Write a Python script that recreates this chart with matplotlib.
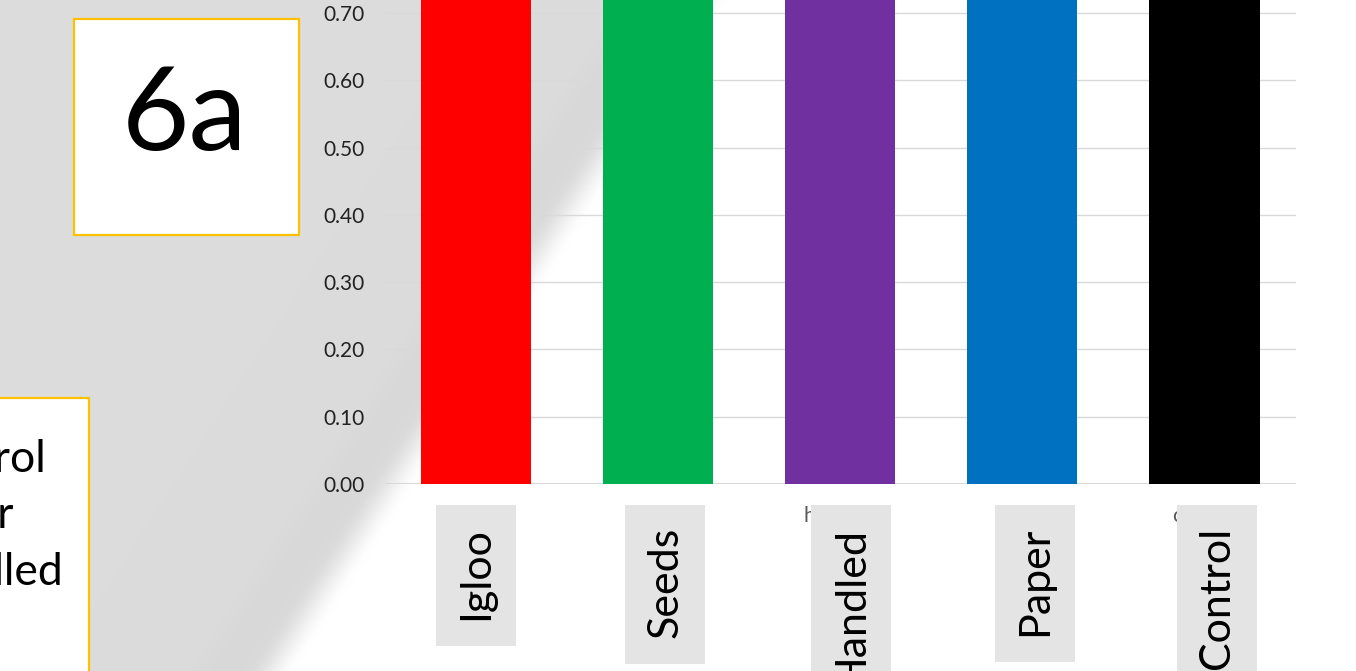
import numpy as np
import matplotlib
matplotlib.use("Agg")
import matplotlib.pyplot as plt
from matplotlib.patches import Rectangle
from matplotlib.transforms import blended_transform_factory, offset_copy

# ---------------- data ----------------
categories = ["Igloo", "Seeds", "Handled", "Paper", "Control"]
axis_tick_names = ["igloo", "seeds", "handled", "paper", "control"]
values = [0.95, 0.92, 0.90, 0.94, 0.97]          # bars run past the visible top (0.72)
bar_colors = ["#FF0000", "#00B050", "#7030A0", "#0070C0", "#000000"]
y_ticks = [0.0, 0.1, 0.2, 0.3, 0.4, 0.5, 0.6, 0.7]
side_lines = ["Control", "Paper", "Handled"]
panel_label = "6a"

# ---------------- layout ----------------
W, H = 1356, 671
FONT = ["Lato", "DejaVu Sans"]
plt.rcParams["font.family"] = FONT

fig = plt.figure(figsize=(W / 100, H / 100), dpi=100)


def fx(px):
    return px / W


def fy(py):  # py measured from top
    return 1 - py / H


# background (slide with page-curl)
bg = fig.add_axes([0, 0, 1, 1], zorder=-10)
yy, xx = np.mgrid[0:H, 0:W].astype(float)
slope = 0.645
xline = 563 - slope * (yy - 200)
d = (xx - xline) / np.sqrt(1 + slope ** 2)
gray = 220.0
shadow = gray - 4 * np.exp(-((d + 30) / 25) ** 2)
t = np.clip((d + 10) / 40, 0, 1)
t = t * t * (3 - 2 * t)
val = shadow * (1 - t) + 255 * t
img = np.dstack([val, val, val]) / 255.0
bg.imshow(img, extent=[0, W, H, 0], aspect="auto", interpolation="bilinear")
bg.set_xlim(0, W)
bg.set_ylim(H, 0)
bg.axis("off")

# main chart axes
ax_left, ax_right, ax_bottom = 385, 1295.5, 484
ax = fig.add_axes([fx(ax_left), fy(ax_bottom), fx(ax_right - ax_left), ax_bottom / H])
ax.patch.set_alpha(0)
x = np.arange(len(categories))
ax.bar(x, values, width=0.605, color=bar_colors, zorder=3)
ax.set_xlim(-0.5, len(categories) - 0.5)
ax.set_ylim(0, 0.7 + 13 / (471 / 0.7))
ax.set_yticks(y_ticks)
ax.set_yticklabels([f"{v:.2f}" for v in y_ticks], fontsize=15, color="#222222")
ax.set_xticks(x)
ax.set_xticklabels(axis_tick_names, fontsize=15, color="#595959")
ax.tick_params(axis="both", length=0)
ax.tick_params(axis="y", pad=15)
ax.tick_params(axis="x", pad=16)
for s in ax.spines.values():
    s.set_visible(False)
ax.grid(axis="y", color="#D9D9D9", linewidth=1.0, zorder=0)
ax.set_axisbelow(True)
ax.axhline(0, color="#D9D9D9", linewidth=1.5, zorder=1)

# category label boxes (rotated text on light gray boxes)
label_offsets_px = [0, 7, 11, 12.5, 12.5]
blend = blended_transform_factory(ax.transData, fig.transFigure)
texts = []
for i, (cat, off) in enumerate(zip(categories, label_offsets_px)):
    tr = offset_copy(blend, fig=fig, x=off, y=0, units="dots")
    tt = fig.text(i, fy(527), cat, transform=tr, rotation=90, ha="center", va="top",
                  fontsize=31, color="black", zorder=6)
    texts.append(tt)

fig.canvas.draw()
renderer = fig.canvas.get_renderer()
inv = fig.transFigure.inverted()
for tt in texts:
    bb = tt.get_window_extent(renderer)
    cx = (bb.x0 + bb.x1) / 2
    x0, x1 = cx - 40, cx + 40
    y_top = (H - 505)
    y_bot = bb.y0 - 26
    (a0, b0) = inv.transform((x0, y_bot))
    (a1, b1) = inv.transform((x1, y_top))
    fig.patches.append(Rectangle((a0, b0), a1 - a0, b1 - b0, transform=fig.transFigure,
                                 facecolor="#E4E4E4", edgecolor="none", zorder=5))

# "6a" panel box
fig.patches.append(Rectangle((fx(74), fy(235)), fx(299 - 74), (235 - 19) / H,
                             transform=fig.transFigure, facecolor="white",
                             edgecolor="#FFC000", linewidth=1.6, zorder=4))
fig.text(fx(185), fy(150), panel_label, ha="center", va="baseline", fontsize=84,
         color="black", zorder=6)

# bottom-left legend-like box (cut off by slide edge)
fig.patches.append(Rectangle((fx(-20), fy(720)), fx(89 + 20), (720 - 398) / H,
                             transform=fig.transFigure, facecolor="white",
                             edgecolor="#FFC000", linewidth=1.6, zorder=4))
line_right_px = [47, 14, 64]
line_base_px = [472, 528, 585]
for txt, rx, by in zip(side_lines, line_right_px, line_base_px):
    fig.text(fx(rx), fy(by), txt, ha="right", va="baseline", fontsize=32,
             color="black", zorder=6)

fig.savefig("out.png", dpi=100)
